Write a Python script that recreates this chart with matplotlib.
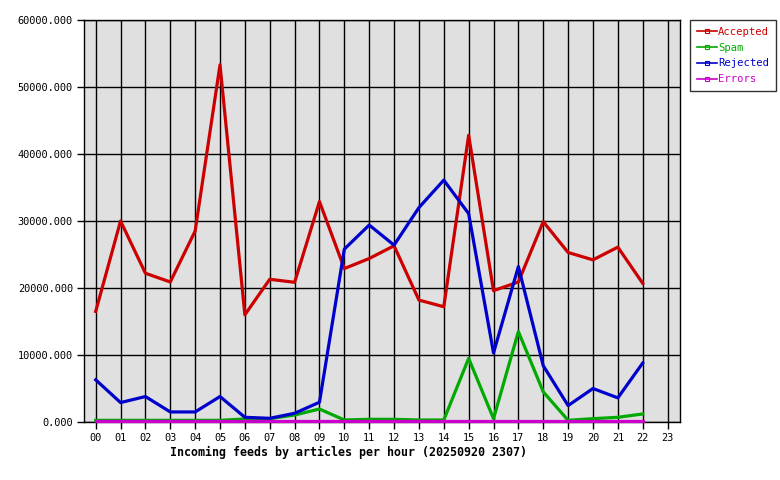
import matplotlib
matplotlib.use("Agg")
import matplotlib.pyplot as plt
from matplotlib.lines import Line2D

hours = ["00", "01", "02", "03", "04", "05", "06", "07", "08", "09", "10", "11",
         "12", "13", "14", "15", "16", "17", "18", "19", "20", "21", "22", "23"]

# values, hour 23 has no data yet
accepted = [16500, 30000, 22200, 20900, 28500, 53300, 16000, 21300, 20850, 32900,
            22900, 24400, 26300, 18200, 17200, 42800, 19600, 20900, 29900, 25300,
            24200, 26100, 20700]
spam = [250, 250, 250, 250, 250, 250, 450, 500, 1040, 1940, 300, 400, 400, 300,
        300, 9500, 500, 13500, 4500, 250, 500, 700, 1200]
rejected = [6300, 2900, 3800, 1500, 1500, 3800, 700, 550, 1300, 2950, 25800, 29400,
            26400, 32000, 36100, 31100, 10300, 23200, 8400, 2450, 5000, 3600, 8800]
errors = [80] * 23

series = [("Accepted", accepted, "#cc0000"),
          ("Spam", spam, "#00aa00"),
          ("Rejected", rejected, "#0000cc"),
          ("Errors", errors, "#cc00cc")]

plt.rcParams["font.family"] = "DejaVu Sans Mono"

fig = plt.figure(figsize=(7.8, 4.8), dpi=100)
ax = fig.add_axes([84 / 780, 58 / 480, 596 / 780, 402 / 480])
ax.set_facecolor("#e0e0e0")

x = list(range(len(accepted)))
handles = []
for name, vals, col in series:
    ax.plot(x, vals, color=col, linewidth=2.3, zorder=3, clip_on=False)
    handles.append(Line2D([0], [0], color=col, linewidth=1.2, marker="s",
                          markersize=2.5, markerfacecolor="none",
                          markeredgecolor=col, markeredgewidth=0.8))

ax.set_xlim(-0.47, 23.5)
ax.set_ylim(0, 60000)
ax.set_xticks(range(24))
ax.set_xticklabels(hours, fontsize=7.4)
ax.set_yticks(range(0, 60001, 10000))
ax.set_yticklabels(["%.3f" % v for v in range(0, 60001, 10000)], fontsize=7.4)
ax.tick_params(length=5, width=1, color="black", pad=3)
ax.grid(True, color="black", linewidth=1, zorder=1)
ax.set_axisbelow(True)
for s in ax.spines.values():
    s.set_color("black")
    s.set_linewidth(1)

fig.text(170 / 780, 1 - 452 / 480, "Incoming feeds by articles per hour (20250920 2307)",
         fontsize=8.4, fontweight="bold", ha="left", va="center")

leg = fig.legend(handles, [s[0] for s in series], loc="upper left",
                 bbox_to_anchor=(690 / 780, 1 - 20 / 480), fontsize=7.6,
                 frameon=True, fancybox=False, handlelength=1.9, handletextpad=0.1,
                 borderpad=0.65, labelspacing=0.55, borderaxespad=0,
                 labelcolor="linecolor")
leg.get_frame().set_edgecolor("black")
leg.get_frame().set_linewidth(1)

fig.savefig("out.png", dpi=100)
